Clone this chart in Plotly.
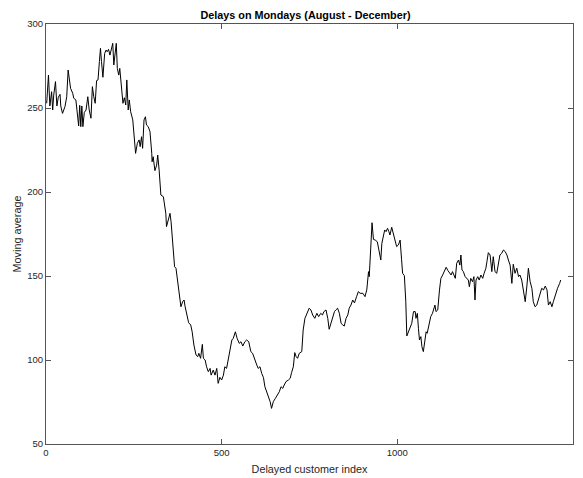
import plotly.graph_objects as go

customer_index = [
    2, 7, 11, 16, 19, 22, 27, 31, 35, 40, 42, 47, 54, 59, 63, 70, 76, 79, 85, 90,
    93, 96, 99, 102, 105, 109, 114, 119, 123, 128, 132, 136, 140, 144, 148, 152, 155, 158, 162, 167,
    171, 174, 178, 182, 186, 190, 193, 197, 200, 203, 207, 210, 214, 219, 223, 227, 230, 234, 237, 241,
    247, 252, 255, 260, 265, 268, 272, 275, 279, 283, 286, 291, 296, 301, 302, 305, 310, 315, 318, 322,
    327, 334, 341, 343, 348, 353, 356, 361, 366, 370, 374, 378, 384, 389, 393, 396, 402, 406, 412, 416,
    421, 427, 432, 435, 440, 445, 448, 453, 457, 462, 467, 470, 476, 481, 486, 490, 495, 500, 505, 509,
    514, 519, 524, 529, 533, 539, 544, 550, 555, 560, 566, 571, 577, 583, 588, 594, 600, 604, 609, 614,
    619, 623, 628, 633, 638, 642, 647, 653, 659, 664, 669, 674, 678, 683, 690, 695, 699, 704, 708, 712,
    716, 721, 728, 732, 737, 744, 749, 754, 759, 765, 771, 776, 782, 787, 791, 797, 802, 806, 811, 816,
    821, 825, 830, 835, 840, 845, 849, 854, 859, 863, 868, 873, 878, 884, 889, 894, 902, 908, 913, 918,
    920, 924, 928, 932, 937, 943, 948, 953, 956, 960, 964, 968, 972, 976, 979, 984, 989, 994, 998, 1003,
    1008, 1012, 1015, 1020, 1024, 1027, 1032, 1036, 1041, 1046, 1051, 1053, 1057, 1060, 1063, 1067, 1070, 1074, 1078, 1082,
    1085, 1090, 1095, 1100, 1105, 1107, 1110, 1115, 1120, 1124, 1129, 1134, 1139, 1144, 1148, 1153, 1157, 1162, 1165, 1169,
    1174, 1178, 1181, 1184, 1188, 1193, 1198, 1202, 1205, 1209, 1214, 1218, 1221, 1224, 1229, 1233, 1238, 1243, 1247, 1252,
    1255, 1259, 1264, 1269, 1273, 1278, 1283, 1288, 1292, 1297, 1302, 1307, 1312, 1316, 1321, 1326, 1330, 1335, 1340, 1345,
    1349, 1354, 1359, 1364, 1369, 1373, 1378, 1383, 1387, 1392, 1397, 1402, 1406, 1411, 1416, 1421, 1426, 1430, 1435, 1440,
    1444, 1449, 1456, 1462, 1465,
]

moving_average = [
    252.8, 269.6, 251.2, 259.7, 248.8, 257.7, 265.7, 251.2, 256.4, 258.1, 251.2, 246.8, 250.8, 256.7, 272.6, 261.7, 258.8, 255.8, 254.8, 243.9,
    239.3, 251.6, 238.9, 251.2, 238.9, 247.4, 248.8, 256.7, 248.8, 243.9, 262.7, 256.7, 252.8, 266.3, 266.7, 277.6, 285.5, 277.6, 268.3, 282.5,
    284.5, 283.5, 284.9, 281.5, 285.5, 288.5, 275.6, 283.5, 288.5, 273.6, 269.6, 273.6, 264.7, 252.8, 256.1, 251.8, 266.7, 248.8, 254.8, 247.8,
    242.9, 227.0, 223.0, 229.0, 231.0, 227.0, 232.9, 226.0, 242.9, 244.8, 239.9, 238.9, 235.9, 223.0, 218.0, 221.0, 212.7, 216.0, 222.0, 213.0,
    198.2, 197.2, 187.3, 179.4, 184.3, 187.3, 182.3, 168.5, 155.5, 154.6, 147.6, 139.7, 131.7, 134.7, 135.7, 131.7, 126.8, 122.2, 120.8, 116.8,
    108.9, 103.0, 102.0, 104.0, 101.0, 109.3, 101.0, 100.0, 96.0, 93.0, 95.0, 91.0, 94.0, 91.0, 95.0, 86.1, 89.7, 88.1, 91.0, 96.0,
    95.0, 100.0, 106.4, 111.9, 112.9, 116.8, 112.9, 109.9, 110.9, 108.3, 110.9, 111.9, 110.9, 105.0, 104.0, 100.0, 97.0, 95.0, 96.0, 92.0,
    89.5, 84.1, 81.1, 78.2, 75.2, 71.2, 75.2, 77.2, 79.2, 81.1, 84.1, 83.1, 85.1, 87.1, 88.1, 89.1, 92.5, 96.0, 104.4, 102.0,
    101.0, 104.0, 105.0, 117.9, 124.8, 128.8, 130.8, 129.8, 126.8, 124.8, 127.8, 125.8, 127.8, 126.8, 128.8, 129.8, 124.8, 118.3, 122.2, 125.8,
    128.8, 129.8, 130.8, 127.8, 121.8, 120.8, 120.2, 124.8, 126.8, 130.8, 132.7, 135.7, 134.0, 137.7, 140.7, 139.7, 139.7, 137.7, 141.7, 152.6,
    149.6, 165.5, 181.7, 171.8, 171.4, 170.4, 164.5, 159.5, 169.5, 173.4, 177.4, 176.4, 178.4, 176.4, 174.4, 179.0, 174.4, 170.4, 167.5, 168.5,
    171.4, 160.0, 151.6, 150.2, 135.0, 114.3, 116.8, 119.8, 121.8, 128.8, 128.8, 124.8, 127.8, 118.9, 111.9, 113.9, 107.9, 105.0, 110.0, 116.8,
    115.9, 121.8, 125.8, 127.8, 130.8, 132.7, 128.8, 129.8, 141.7, 148.6, 150.6, 152.6, 155.2, 153.2, 152.0, 150.6, 152.6, 150.6, 148.6, 157.6,
    159.5, 156.5, 162.5, 153.6, 152.6, 149.6, 148.6, 147.6, 143.6, 148.6, 146.6, 149.6, 135.7, 147.6, 149.6, 147.6, 150.6, 148.6, 151.6, 154.6,
    158.5, 163.9, 162.5, 152.6, 161.5, 152.6, 151.6, 159.5, 162.5, 163.5, 165.5, 164.5, 162.5, 159.5, 156.5, 145.6, 157.0, 151.6, 154.6, 149.6,
    150.6, 147.6, 140.7, 134.7, 144.6, 154.6, 146.6, 142.7, 134.7, 131.7, 132.7, 136.7, 139.7, 142.7, 141.7, 144.0, 141.7, 132.7, 134.7, 131.7,
    134.7, 138.7, 142.7, 145.6, 147.6,
]

x_ticks = [0, 500, 1000, 1500]
y_ticks = [50, 100, 150, 200, 250, 300]

FONT = "Liberation Sans, Arial, Helvetica, sans-serif"
AX = "#262626"

fig = go.Figure()
fig.add_trace(go.Scatter(
    x=customer_index, y=moving_average, mode="lines",
    line=dict(color="black", width=1), showlegend=False,
))

axis_common = dict(
    showline=True, linecolor="#555555", linewidth=1, mirror="ticks",
    ticks="inside", ticklen=5, tickwidth=1, tickcolor="#555555",
    showgrid=False, zeroline=False, automargin=False,
    tickfont=dict(family=FONT, size=9.5, color=AX),
)

# page body has an 8px default margin, so the figure is sized to fit the window
W, H = 575, 470
fig.update_layout(
    width=W, height=H,
    margin=dict(l=38, r=10, t=16, b=34),
    paper_bgcolor="white", plot_bgcolor="white",
    title=dict(text="<b>Delays on Mondays (August - December)</b>",
               x=0.5 - 4 / 527, xref="paper", xanchor="center",
               y=1 - 7 / H, yref="container", yanchor="middle",
               font=dict(family=FONT, size=10.8, color="black")),
    xaxis=dict(range=[0, 1500], tickvals=x_ticks,
               title=dict(text="Delayed customer index", standoff=8,
                          font=dict(family=FONT, size=10.8, color=AX)),
               **axis_common),
    yaxis=dict(range=[50, 300], tickvals=y_ticks,
               title=dict(text="Moving average", standoff=3,
                          font=dict(family=FONT, size=10.8, color=AX)),
               **axis_common),
)

fig.write_html("out.html")
